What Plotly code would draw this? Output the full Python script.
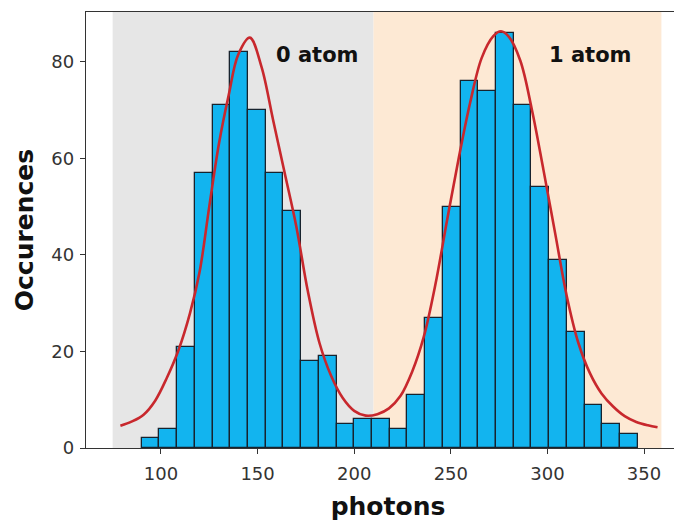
import plotly.graph_objects as go

# ---- data ----
bin_start = 90.0
bin_width = 9.17
counts = [2, 4, 21, 57, 71, 82, 70, 57, 49, 18, 19, 5, 6, 6,
          4, 11, 27, 50, 76, 74, 86, 71, 54, 39, 24, 9, 5, 3]

fit_x = [79, 85, 91, 97, 103, 109, 115, 120, 125, 130, 135, 140, 146, 152, 158,
         164, 170, 176, 182, 188, 194, 200, 206, 212, 218, 224, 230, 236, 242,
         248, 254, 260, 266, 272, 276, 280, 286, 292, 298, 304, 310, 316, 322,
         328, 334, 340, 346, 352, 357]
fit_y = [4.6, 5.5, 6.9, 9.8, 14.5, 20.2, 27.9, 36.5, 50, 63, 73, 81.5, 85, 79, 68,
         57, 46, 32.5, 21.8, 15, 10.4, 7.7, 6.7, 7.0, 8.2, 10.8, 15.8, 23, 33.8,
         47, 59.8, 71.5, 80.8, 85.3, 86.3, 85.2, 80.2, 70, 57.5, 44.5, 31.5, 21.8,
         15.5, 11.3, 8.6, 6.6, 5.4, 4.7, 4.3]

region_bounds = [75, 210, 359]
region_labels = ["0 atom", "1 atom"]
label_x = [181, 322]
label_y = 81.4

x_ticks = [100, 150, 200, 250, 300, 350]
y_ticks = [0, 20, 40, 60, 80]

# ---- figure ----
centers = [bin_start + bin_width * (i + 0.5) for i in range(len(counts))]

fig = go.Figure()
fig.add_trace(go.Bar(
    x=centers, y=counts, width=bin_width,
    marker=dict(color="#12b4ef", line=dict(color="#17232e", width=1.3)),
    showlegend=False,
))
fig.add_trace(go.Scatter(
    x=fit_x, y=fit_y, mode="lines", line_shape="spline",
    line=dict(color="#c8282d", width=2.6), showlegend=False,
))

region_colors = ["#e6e6e6", "#fde9d4"]
for i, col in enumerate(region_colors):
    fig.add_shape(type="rect", xref="x", yref="paper",
                  x0=region_bounds[i], x1=region_bounds[i + 1], y0=0, y1=1,
                  fillcolor=col, line=dict(width=0), layer="below")

for lx, txt in zip(label_x, region_labels):
    fig.add_annotation(x=lx, y=label_y, text="<b>%s</b>" % txt, showarrow=False,
                       font=dict(family="DejaVu Sans", size=21, color="#111111"))

fig.update_layout(
    width=682, height=524,
    margin=dict(l=78, r=0, t=4, b=84),
    plot_bgcolor="white", paper_bgcolor="white",
    bargap=0,
    font=dict(family="DejaVu Sans", color="#333333"),
)
fig.update_xaxes(
    range=[61.2, 373.8], tickvals=x_ticks, ticks="outside", ticklen=5,
    tickcolor="#333", tickfont=dict(size=18, color="#333333"), ticklabelstandoff=4,
    showline=True, linecolor="#333", linewidth=1.3, mirror=True,
    showgrid=False, zeroline=False, automargin=False,
    title=dict(text="<b>photons</b>", font=dict(size=25, color="#111111"), standoff=14),
)
fig.update_yaxes(
    range=[0, 90.3], tickvals=y_ticks, ticks="outside", ticklen=5,
    tickcolor="#333", tickfont=dict(size=18, color="#333333"), ticklabelstandoff=2,
    showline=True, linecolor="#333", linewidth=1.3, mirror=False,
    showgrid=False, zeroline=False, automargin=False,
    title=dict(text="<b>Occurences</b>", font=dict(size=25, color="#111111"), standoff=10),
)

fig.write_html("out.html")
